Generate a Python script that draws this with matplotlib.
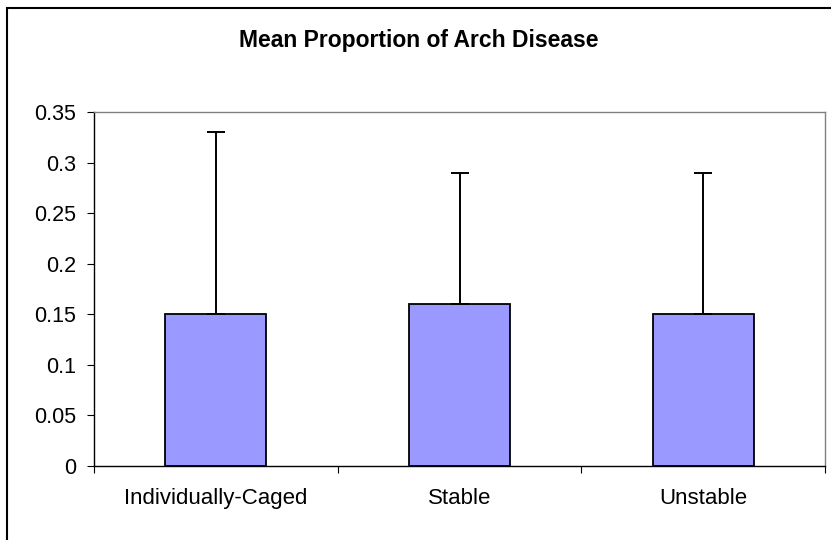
"""Bar chart: mean proportion of arch disease by housing group."""

import matplotlib.pyplot as plt
from matplotlib.patches import Rectangle

plt.rcParams["font.family"] = ["Liberation Sans", "DejaVu Sans"]

BAR_COLOR = "#9999ff"
FRAME_GREY = "#808080"

groups = ["Individually-Caged", "Stable", "Unstable"]
means = [0.15, 0.16, 0.15]
upper_err = [0.18, 0.13, 0.14]
y_ticks = [0, 0.05, 0.1, 0.15, 0.2, 0.25, 0.3, 0.35]
y_tick_labels = ["0", "0.05", "0.1", "0.15", "0.2", "0.25", "0.3", "0.35"]

W, H = 831, 540
fig = plt.figure(figsize=(W / 100, H / 100), dpi=100)
ax = fig.add_axes([94 / W, (H - 466) / H, (825 - 94) / W, (466 - 112) / H])

x = list(range(len(groups)))
ax.bar(x, means, width=0.415, color=BAR_COLOR, edgecolor="black", linewidth=1.3, zorder=2)
ax.errorbar(
    x, means, yerr=[[0] * len(means), upper_err], fmt="none",
    ecolor="black", elinewidth=1.4, capsize=6.5, capthick=1.4, zorder=3,
)

ax.set_xlim(-0.5, len(groups) - 0.5)
ax.set_ylim(0, 0.35)
ax.set_yticks(y_ticks)
ax.set_yticklabels(y_tick_labels, fontsize=15.5)
ax.tick_params(axis="y", direction="out", length=5, width=0.8, pad=8, colors="black")

# category boundaries get the tick marks, labels sit between them
ax.set_xticks([i - 0.5 for i in range(len(groups) + 1)])
ax.set_xticklabels([])
ax.tick_params(axis="x", which="major", direction="out", length=5, width=0.8)
ax.set_xticks(x, minor=True)
ax.set_xticklabels(groups, minor=True, fontsize=16)
ax.tick_params(axis="x", which="minor", length=0, pad=16)

for side in ("top", "right"):
    ax.spines[side].set_color(FRAME_GREY)
    ax.spines[side].set_linewidth(1.0)
for side in ("left", "bottom"):
    ax.spines[side].set_color("black")
    ax.spines[side].set_linewidth(1.0)

fig.text(419 / W, 1 - 40 / H, "Mean Proportion of Arch Disease",
         ha="center", va="center", fontsize=16.5, fontweight="bold")

# chart-area border (cropped on right and bottom in the original)
fig.patches.append(Rectangle((7 / W, -0.1), 1.2, 1.1 - 8 / H, transform=fig.transFigure,
                             fill=False, edgecolor="black", linewidth=1.5))

fig.savefig("out.png", dpi=100)
